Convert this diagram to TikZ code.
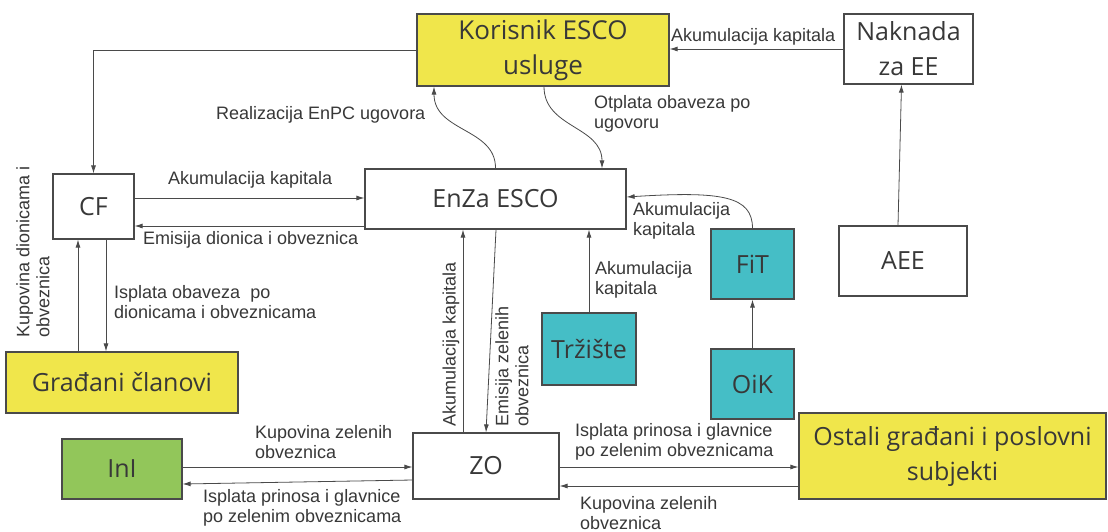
\documentclass[tikz,border=0pt]{standalone}
\usepackage{fontspec}
\setmainfont{Liberation Sans}
\newfontfamily\boxfont{Open Sans}
\usetikzlibrary{arrows.meta}

\definecolor{esyellow}{HTML}{F0E64B}
\definecolor{esteal}{HTML}{45BEC6}
\definecolor{esgreen}{HTML}{92C65A}
\definecolor{esline}{HTML}{4A4A4A}
\definecolor{estext}{HTML}{383838}

\tikzset{
  box/.style={draw=esline, line width=1.2pt, inner sep=0pt, align=center,
    font=\boxfont\fontsize{25}{35}\selectfont, text=estext},
  arr/.style={draw=esline, line width=0.8pt, -{Latex[length=8pt,width=5pt]}},
  lbl/.style={font=\fontsize{18}{20}\selectfont, text=estext, inner sep=0pt, align=left},
}

\begin{document}
\begin{tikzpicture}[x=1pt,y=-1pt]
\useasboundingbox[fill=white] (0,0) rectangle (1108,531);

% boxes
\node[box, fill=esyellow, minimum width=252, minimum height=72,
      font=\boxfont\fontsize{26}{35}\selectfont] (user) at (543,50) {Korisnik ESCO\\usluge};
\node[box, minimum width=129, minimum height=70] (fee) at (908.5,49) {Naknada\\za EE};
\node[box, minimum width=128, minimum height=70] (aee) at (903,261) {AEE};
\node[box, minimum width=81, minimum height=65] (cf) at (93.5,206.5) {CF};
\node[box, minimum width=261, minimum height=60] (enza) at (495.5,199) {EnZa ESCO};
\node[box, fill=esteal, minimum width=83, minimum height=70] (fit) at (752.5,264) {FiT};
\node[box, fill=esteal, minimum width=83, minimum height=70] (oik) at (752.5,384) {OiK};
\node[box, fill=esteal, minimum width=94, minimum height=72] (trz) at (589,349) {Tržište};
\node[box, minimum width=146, minimum height=66] (zo) at (486,466) {ZO};
\node[box, fill=esyellow, minimum width=307, minimum height=86] (ostali) at (952.5,456) {Ostali građani i poslovni\\subjekti};
\node[box, fill=esyellow, minimum width=232, minimum height=61] (gradjani) at (122,382.5) {Građani članovi};
\node[box, fill=esgreen, minimum width=120, minimum height=60] (inl) at (122,469) {InI};

% connectors
\draw[arr] (user.west) -| (cf.north);
\draw[arr] (fee.west) -- (fee.west -| user.east);
\draw[arr] ([xshift=-5]aee.north) -- ([xshift=-7]fee.south);
\draw[arr] (enza.north) .. controls (496,128) and (434,132) .. ([xshift=-109]user.south);
\draw[arr] ([xshift=1]user.south) .. controls (544,128) and (602,126) .. ([xshift=106.5]enza.north);
\draw[arr] ([yshift=8.5]cf.east) -- ([yshift=1]enza.west);
\draw[arr] ([yshift=-27]enza.west) -- ([yshift=-19.5]cf.east);
\draw[arr] ([xshift=-44]gradjani.north) -- ([xshift=-15.5]cf.south);
\draw[arr] ([xshift=12.5]cf.south) -- ([xshift=-16]gradjani.north);
\draw[arr] ([xshift=-23]zo.north) -- ([xshift=-32.5]enza.south);
\draw[arr] ([xshift=0.5]enza.south) -- (zo.north);
\draw[arr] (trz.north) -- ([xshift=93.5]enza.south);
\draw[arr] (fit.north) .. controls (752.5,196) and (722,191) .. ([yshift=2]enza.east);
\draw[arr] (oik.north) -- (fit.south);
\draw[arr] ([yshift=2]inl.east) -- ([yshift=-1]zo.west);
\draw[arr] ([yshift=-14]zo.west) -- ([yshift=-15]inl.east);
\draw[arr] ([yshift=-1]zo.east) -- ([yshift=-11]ostali.west);
\draw[arr] ([yshift=-30]ostali.west) -- ([yshift=-20]zo.east);

% connector labels
\node[lbl, anchor=west] (l1) at (671,37) {Akumulacija kapitala};
\node[lbl, anchor=west] (l2) at (216,115) {Realizacija EnPC ugovora};
\node[lbl, anchor=west] (l3) at (594,114) {Otplata obaveza po\\ugovoru};
\node[lbl, anchor=west] (l4) at (168,180) {Akumulacija kapitala};
\node[lbl, anchor=west] (l5) at (143,240) {Emisija dionica i obveznica};
\node[lbl, anchor=west] (l6) at (114,302) {Isplata obaveza \ po\\dionicama i obveznicama};
\node[lbl, anchor=west, rotate=90] (l7) at (33,338) {Kupovina dionicama i\\obveznica};
\node[lbl, anchor=west] (l8) at (633,220.5) {Akumulacija\\kapitala};
\node[lbl, anchor=west] (l9) at (595,280) {Akumulacija\\kapitala};
\node[lbl, anchor=west, rotate=90] (l10) at (451,427) {Akumulacija kapitala};
\node[lbl, anchor=west, rotate=90] (l11) at (512,427) {Emisija zelenih\\obveznica};
\node[lbl, anchor=west] (l12) at (255,442) {Kupovina zelenih\\obveznica};
\node[lbl, anchor=west] (l13) at (203,508) {Isplata prinosa i glavnice\\po zelenim obveznicama};
\node[lbl, anchor=west] (l14) at (575,441.5) {Isplata prinosa i glavnice\\po zelenim obveznicama};
\node[lbl, anchor=west] (l15) at (580,513) {Kupovina zelenih\\obveznica};
\end{tikzpicture}
\end{document}
